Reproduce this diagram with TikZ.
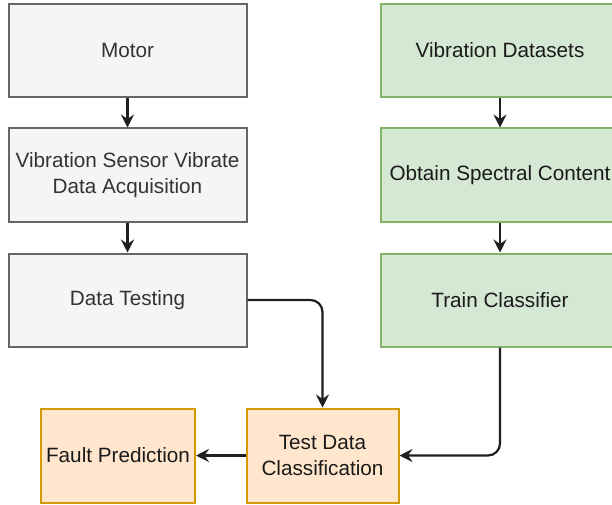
\documentclass[tikz,border=0pt]{standalone}
\usepackage{fontspec}
\setmainfont{Liberation Sans}
\usetikzlibrary{arrows.meta}

\definecolor{greyfill}{HTML}{F5F5F5}
\definecolor{greyline}{HTML}{666666}
\definecolor{greytext}{HTML}{333333}
\definecolor{greenfill}{HTML}{D5E8D4}
\definecolor{greenline}{HTML}{82B366}
\definecolor{orangefill}{HTML}{FFE6CC}
\definecolor{orangeline}{HTML}{D79B00}
\definecolor{darktext}{HTML}{1A1A1A}

\tikzset{
  box/.style={draw, line width=2pt, minimum width=238pt, minimum height=93pt,
    inner sep=0pt, align=center, font=\fontsize{20.7}{25.5}\selectfont},
  greybox/.style={box, fill=greyfill, draw=greyline, text=greytext},
  greenbox/.style={box, fill=greenfill, draw=greenline, text=darktext},
  orangebox/.style={box, fill=orangefill, draw=orangeline, text=darktext,
    minimum height=94pt},
  flow/.style={line width=2.2pt, draw=black!88,
    -{Stealth[length=13pt, width=13pt, inset=4.5pt]}},
}

\begin{document}
\begin{tikzpicture}[x=1pt, y=-1pt]
  \clip (0,0) rectangle (612,505);
  \fill[white] (0,0) rectangle (612,505);

  % acquisition chain
  \node[greybox] (motor)  at (127.5, 50.5)  {Motor};
  \node[greybox] (sensor) at (127.5, 175)   {Vibration Sensor Vibrate\\Data Acquisition};
  \node[greybox] (test)   at (127.5, 300)   {Data Testing};

  % training chain
  \node[greenbox] (sets)  at (500, 50.5)  {Vibration Datasets};
  \node[greenbox] (spec)  at (500, 175)   {Obtain Spectral Content};
  \node[greenbox] (train) at (500, 300)   {Train Classifier};

  % classification and output
  \node[orangebox, minimum width=152pt] (classify) at (322.5, 455.5) {Test Data\\Classification};
  \node[orangebox, minimum width=154pt] (fault)    at (118, 455.5)   {Fault Prediction};

  % connectors
  \draw[flow] (motor) -- (sensor);
  \draw[flow] (sensor) -- (test);
  \draw[flow] (sets) -- (spec);
  \draw[flow] (spec) -- (train);
  \draw[flow, rounded corners=12pt] (test.east) -| (classify.north);
  \draw[flow, rounded corners=12pt] (train.south) |- (classify.east);
  \draw[flow] (classify) -- (fault);
\end{tikzpicture}
\end{document}
